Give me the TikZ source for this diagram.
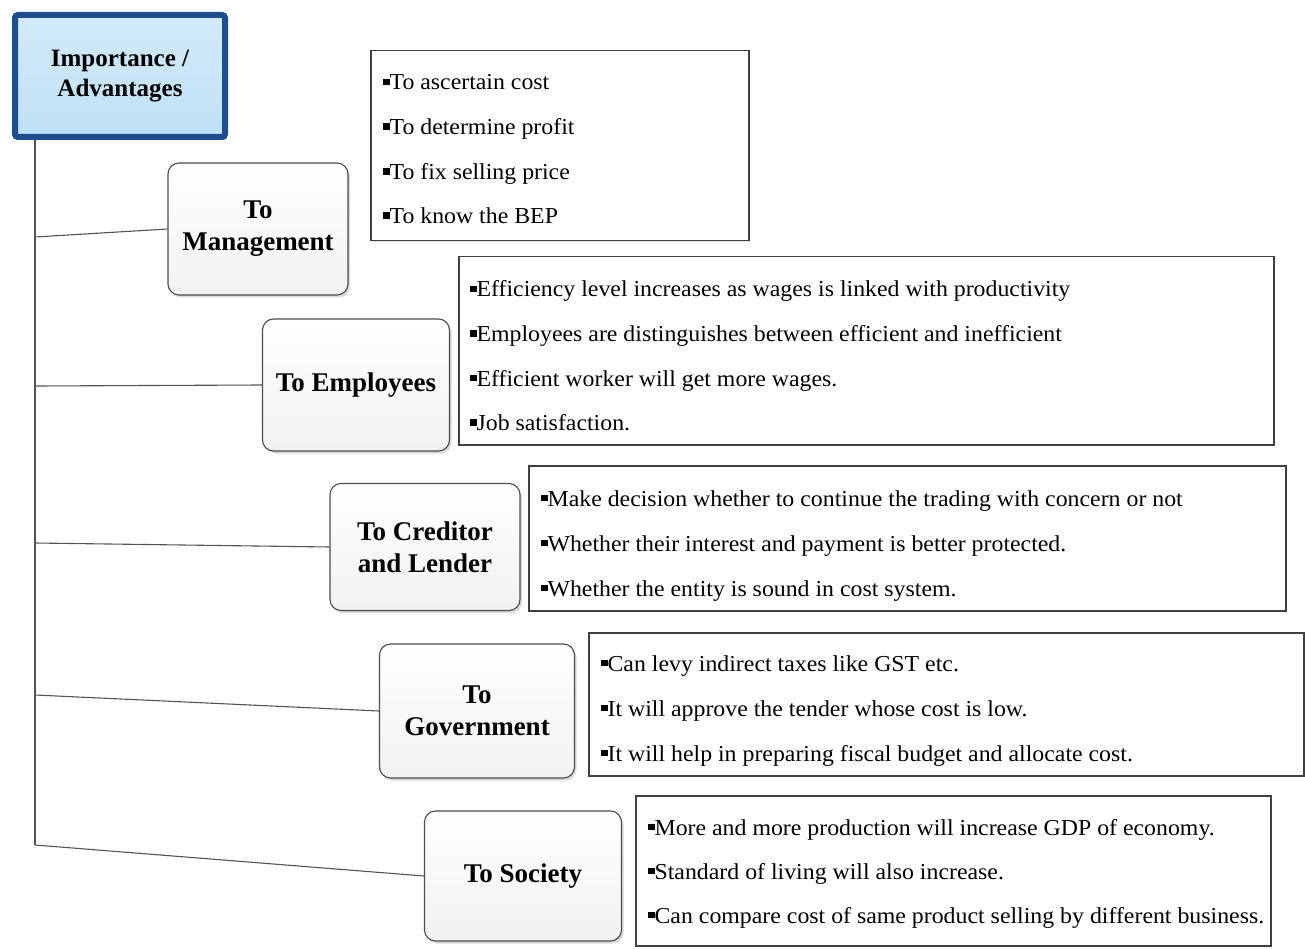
\documentclass[tikz,border=0pt]{standalone}
\usepackage{fontspec}
\setmainfont{Liberation Serif}
\newfontfamily\listfont[FakeStretch=1.045]{Liberation Serif}
\usetikzlibrary{shadows,calc}
\newcommand\blt{\rule[0.2em]{0.28em}{0.3em}}
\definecolor{titleblue}{HTML}{1F4E8C}
\definecolor{titlefill}{HTML}{BFE1F6}
\tikzset{
  titlebox/.style={draw=titleblue, line width=6pt, rounded corners=3pt,
    top color=titlefill!70!white, bottom color=titlefill,
    drop shadow={shadow xshift=2pt, shadow yshift=-3pt, opacity=0.35},
    font=\fontsize{25}{30}\selectfont\bfseries, align=center, inner sep=0pt},
  catbox/.style={draw=gray!60!black, line width=1.1pt, rounded corners=11pt,
    top color=white, bottom color=blue!5!gray!10,
    drop shadow={shadow xshift=2pt, shadow yshift=-2.5pt, opacity=0.3},
    font=\fontsize{27}{32}\selectfont\bfseries, align=center, inner sep=0pt},
  listbox/.style={draw=black!75, line width=1.5pt, fill=white, inner sep=0pt,
    anchor=north west,
    drop shadow={shadow xshift=1.5pt, shadow yshift=-1.5pt, opacity=0.25}},
  item/.style={anchor=base west, inner sep=0pt, font=\listfont\fontsize{22.8}{26}\selectfont},
  tree/.style={draw=gray!65!black, line width=1.1pt}
}
\begin{document}
\begin{tikzpicture}[x=1pt,y=-1pt]
\useasboundingbox (0,0) rectangle (1305,949);

% root of the tree
\node[titlebox, minimum width=210pt, minimum height=122pt] (root) at (120,76)
  {Importance /\\Advantages};

% trunk and its branch points
\coordinate (t0) at (35,140);
\coordinate (t1) at (35,237);
\coordinate (t2) at (35,386);
\coordinate (t3) at (35,543);
\coordinate (t4) at (35,695);
\coordinate (t5) at (35,845);
\draw[tree] (t0) -- (t5);

% category boxes
\node[catbox, minimum width=180pt, minimum height=132pt] (man) at (258,229) {To\\Management};
\node[catbox, minimum width=187pt, minimum height=132pt] (emp) at (356,385) {To Employees};
\node[catbox, minimum width=190pt, minimum height=127pt] (cre) at (425,547) {To Creditor\\and Lender};
\node[catbox, minimum width=195pt, minimum height=134pt] (gov) at (477,711) {To\\Government};
\node[catbox, minimum width=197pt, minimum height=130pt] (soc) at (523,876) {To Society};

% branches
\draw[tree] (t1) -- (man.west);
\draw[tree] (t2) -- (emp.west);
\draw[tree] (t3) -- (cre.west);
\draw[tree] (t4) -- (gov.west);
\draw[tree] (t5) -- (soc.west);

% lists of points
\node[listbox, minimum width=378pt, minimum height=190pt] (l1) at (370,50) {};
\foreach \t [count=\i] in {{To ascertain cost},{To determine profit},{To fix selling price},{To know the BEP}}
  \node[item] (l1i\i) at (383,90+44.6*\i-44.6) {\blt\t};

\node[listbox, minimum width=815pt, minimum height=188pt] (l2) at (458,256) {};
\foreach \t [count=\i] in {{Efficiency level increases as wages is linked with productivity},
  {Employees are distinguishes between efficient and inefficient},
  {Efficient worker will get more wages.},{Job satisfaction.}}
  \node[item] (l2i\i) at (470,297+44.5*\i-44.5) {\blt\t};

\node[listbox, minimum width=757pt, minimum height=145pt] (l3) at (528,465) {};
\foreach \t [count=\i] in {{Make decision whether to continue the trading with concern or not},
  {Whether their interest and payment is better protected.},
  {Whether the entity is sound in cost system.}}
  \node[item] (l3i\i) at (541,506+45*\i-45) {\blt\t};

\node[listbox, minimum width=715pt, minimum height=143pt] (l4) at (588,632) {};
\foreach \t [count=\i] in {{Can levy indirect taxes like GST etc.},
  {It will approve the tender whose cost is low.},
  {It will help in preparing fiscal budget and allocate cost.}}
  \node[item] (l4i\i) at (601,671+45*\i-45) {\blt\t};

\node[listbox, minimum width=635pt, minimum height=150pt] (l5) at (635,795) {};
\foreach \t [count=\i] in {{More and more production will increase GDP of economy.},
  {Standard of living will also increase.},
  {Can compare cost of same product selling by different business.}}
  \node[item] (l5i\i) at (648,835+44*\i-44) {\blt\t};
\end{tikzpicture}
\end{document}
